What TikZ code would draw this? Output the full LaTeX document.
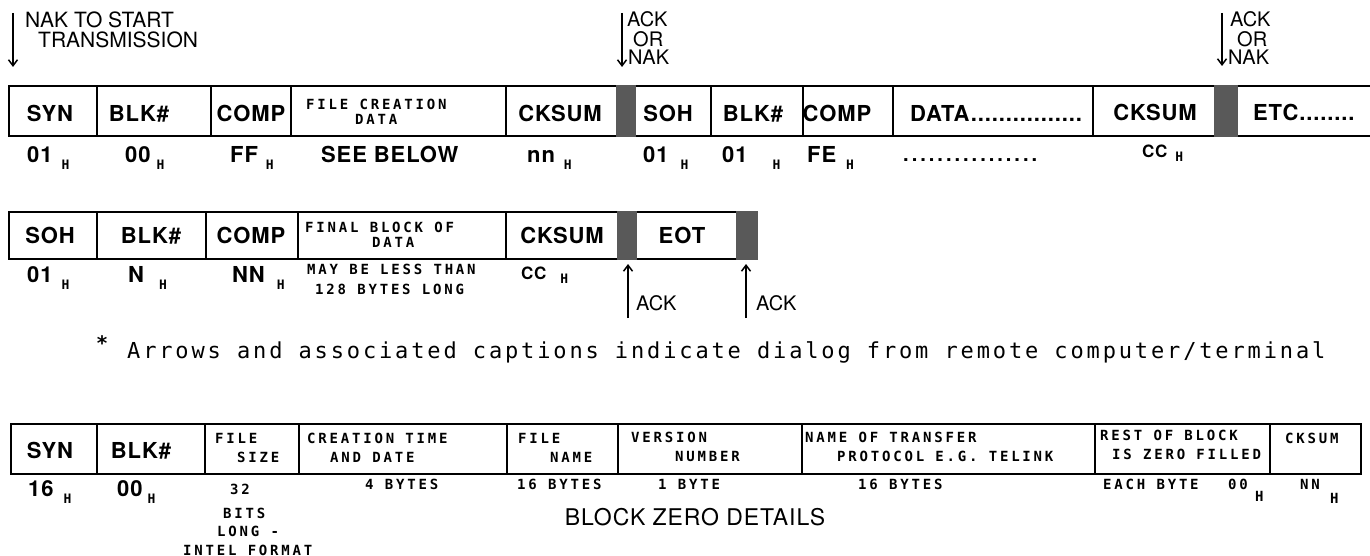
\documentclass[tikz,border=0pt]{standalone}
\usepackage{fontspec}
\setmainfont{TeX Gyre Heros}
\newfontfamily\cellfont[LetterSpace=4]{TeX Gyre Heros}
\newfontfamily\dotfont[LetterSpace=15]{TeX Gyre Heros}
\newfontfamily\plotfont[LetterSpace=20]{DejaVu Sans Mono}
\newfontfamily\capfont[LetterSpace=13]{DejaVu Sans Mono}
\usetikzlibrary{arrows.meta}

\newcommand{\hsub}{\raisebox{-7pt}{\plotfont\bfseries\fontsize{13}{13}\selectfont H}}

\tikzset{
  boxline/.style={line width=2pt},
  darkbar/.style={fill=black!65},
  cell/.style={font=\cellfont\bfseries\fontsize{22}{24}\selectfont, inner sep=0pt, anchor=base},
  val/.style={font=\cellfont\bfseries\fontsize{22}{24}\selectfont, inner sep=0pt, anchor=base west},
  head/.style={font=\fontsize{20}{24}\selectfont, inner sep=0pt, anchor=base west},
  smalltxt/.style={font=\plotfont\bfseries\fontsize{14}{16}\selectfont, inner sep=0pt, anchor=base west},
  msg/.style={line width=1.3pt, -{Straight Barb[length=6pt,width=9pt,line width=1.5pt]}},
}

\begin{document}
\begin{tikzpicture}[x=1pt, y=-1pt]
  \useasboundingbox (0,0) rectangle (1370,556);

  % dialog arrows from the remote end
  \coordinate (nakA) at (13,13);
  \coordinate (nakB) at (13,67);
  \coordinate (ack1A) at (622,13);
  \coordinate (ack1B) at (622,67);
  \coordinate (ack2A) at (1222,13);
  \coordinate (ack2B) at (1222,66);
  \draw[msg] (nakA) -- (nakB);
  \draw[msg] (ack1A) -- (ack1B);
  \draw[msg] (ack2A) -- (ack2B);
  \node[head, font=\fontsize{21}{24}\selectfont] (nak1) at (25,28) {NAK TO START};
  \node[head, font=\fontsize{21}{24}\selectfont] (nak2) at (38,48) {TRANSMISSION};
  \node[head] (ack1a) at (627,27) {ACK};
  \node[head] (ack1b) at (633,47) {OR};
  \node[head] (ack1c) at (628,65) {NAK};
  \node[head] (ack2a) at (1230,27) {ACK};
  \node[head] (ack2b) at (1237,47) {OR};
  \node[head] (ack2c) at (1228,65) {NAK};

  % first row: block zero then block one
  \draw[boxline] (1370,86) -- (9,86) -- (9,136) -- (1370,136);
  \foreach \x in {97,211,291,506,711,803,893,1093}
    \draw[boxline] (\x,86) -- (\x,136);
  \fill[darkbar] (616,85) rectangle (636,137);
  \fill[darkbar] (1214,85) rectangle (1238,137);

  \node[cell] (syn1) at (50,122) {SYN};
  \node[cell] (blk1) at (139,122) {BLK\#};
  \node[cell] (comp1) at (251,122) {COMP};
  \node[smalltxt] (fc1) at (306,110) {FILE CREATION};
  \node[smalltxt] (fc2) at (355,125) {DATA};
  \node[cell] (ck1) at (560,122) {CKSUM};
  \node[cell] (soh1) at (668,122) {SOH};
  \node[cell] (blk2) at (753,122) {BLK\#};
  \node[cell] (comp2) at (837,122) {COMP};
  \node[cell, anchor=base west] (data1) at (910,122) {DATA................};
  \node[cell] (ck2) at (1155,121) {CKSUM};
  \node[cell, anchor=base west] (etc1) at (1253,121) {ETC........};

  \node[val] (v1) at (27,163) {01\hspace{9pt}\hsub};
  \node[val] (v2) at (125,163) {00\hspace{6pt}\hsub};
  \node[val] (v3) at (230,163) {FF\hspace{8pt}\hsub};
  \node[val] (v4) at (321,163) {SEE BELOW};
  \node[val] (v5) at (527,163) {nn\hspace{9pt}\hsub};
  \node[val] (v6) at (643,163) {01\hspace{12pt}\hsub};
  \node[val] (v7) at (722,163) {01\hspace{25pt}\hsub};
  \node[val] (v8) at (807,163) {FE\hspace{10pt}\hsub};
  \node[val, font=\dotfont\bfseries\fontsize{20}{24}\selectfont] (v9) at (903,162) {................};
  \node[val, font=\cellfont\bfseries\fontsize{17}{20}\selectfont] (v10) at (1142,158) {CC\hspace{8pt}\raisebox{3pt}{\hsub}};

  % second row: last block and EOT
  \draw[boxline] (758,212) -- (9,212) -- (9,259) -- (758,259);
  \foreach \x in {97,206,298,506}
    \draw[boxline] (\x,212) -- (\x,259);
  \fill[darkbar] (617,211) rectangle (637,260);
  \fill[darkbar] (736,211) rectangle (758,260);

  \node[cell] (soh3) at (50,243) {SOH};
  \node[cell] (blk3) at (151,243) {BLK\#};
  \node[cell] (comp3) at (251,243) {COMP};
  \node[smalltxt] (fb1) at (305,232) {FINAL BLOCK OF};
  \node[smalltxt] (fb2) at (372,247) {DATA};
  \node[cell] (ck3) at (562,243) {CKSUM};
  \node[cell] (eot) at (682,243) {EOT};

  \node[val] (w1) at (27,282) {01\hspace{9pt}\hsub};
  \node[val] (w2) at (128,282) {N\hspace{15pt}\hsub};
  \node[val] (w3) at (232,282) {NN\hspace{12pt}\hsub};
  \node[smalltxt] (w4) at (307,274) {MAY BE LESS THAN};
  \node[smalltxt] (w5) at (315,294) {128 BYTES LONG};
  \node[val, font=\cellfont\bfseries\fontsize{17}{20}\selectfont] (w6) at (521,279) {CC\hspace{14pt}\raisebox{3pt}{\hsub}};

  \coordinate (up1A) at (628,318);
  \coordinate (up1B) at (628,264);
  \coordinate (up2A) at (746,318);
  \coordinate (up2B) at (746,264);
  \draw[msg] (up1A) -- (up1B);
  \draw[msg] (up2A) -- (up2B);
  \node[head] (ack3) at (636,310) {ACK};
  \node[head] (ack4) at (756,310) {ACK};

  \node[font=\capfont\bfseries\fontsize{20}{22}\selectfont, inner sep=0pt, anchor=base west] (star) at (96,350) {*};
  \node[font=\capfont\fontsize{22}{24}\selectfont, inner sep=0pt, anchor=base west] (note) at (127,358)
    {Arrows and associated captions indicate dialog from remote computer/terminal};

  % third row: block zero details
  \draw[boxline] (11,424) rectangle (1361,474);
  \foreach \x in {97,205,299,507,618,802,1095,1270}
    \draw[boxline] (\x,424) -- (\x,474);

  \node[cell] (syn4) at (50,458) {SYN};
  \node[cell] (blk4) at (141,458) {BLK\#};
  \node[smalltxt] (fs1) at (215,443) {FILE};
  \node[smalltxt] (fs2) at (237,462) {SIZE};
  \node[smalltxt] (ct1) at (307,443) {CREATION TIME};
  \node[smalltxt] (ct2) at (330,462) {AND DATE};
  \node[smalltxt] (fn1) at (518,443) {FILE};
  \node[smalltxt] (fn2) at (550,462) {NAME};
  \node[smalltxt] (vn1) at (631,442) {VERSION};
  \node[smalltxt] (vn2) at (675,461) {NUMBER};
  \node[smalltxt] (tp1) at (805,442) {NAME OF TRANSFER};
  \node[smalltxt] (tp2) at (837,461) {PROTOCOL E.G. TELINK};
  \node[smalltxt] (rb1) at (1100,440) {REST OF BLOCK};
  \node[smalltxt] (rb2) at (1112,459) {IS ZERO FILLED};
  \node[smalltxt] (ck4) at (1285,443) {CKSUM};

  \node[val] (u1) at (28,496) {16\hspace{10pt}\hsub};
  \node[val] (u2) at (117,496) {00\hspace{5pt}\hsub};
  \node[smalltxt] (u3) at (230,494) {32};
  \node[smalltxt] (u3b) at (223,518) {BITS};
  \node[smalltxt] (u3c) at (217,536) {LONG -};
  \node[smalltxt] (u3d) at (183,555) {INTEL FORMAT};
  \node[smalltxt] (u4) at (365,489) {4 BYTES};
  \node[smalltxt] (u5) at (517,489) {16 BYTES};
  \node[smalltxt] (u6) at (658,489) {1 BYTE};
  \node[smalltxt] (u7) at (858,489) {16 BYTES};
  \node[smalltxt] (u8) at (1103,489) {EACH BYTE};
  \node[smalltxt] (u8a) at (1228,489) {00};
  \node[smalltxt] (u8h) at (1255,501) {H};
  \node[smalltxt] (u9) at (1300,489) {NN};
  \node[smalltxt] (u9h) at (1330,503) {H};
  \node[cell, font=\cellfont\fontsize{23}{26}\selectfont] (bzd) at (695,525) {BLOCK ZERO DETAILS};
\end{tikzpicture}
\end{document}
